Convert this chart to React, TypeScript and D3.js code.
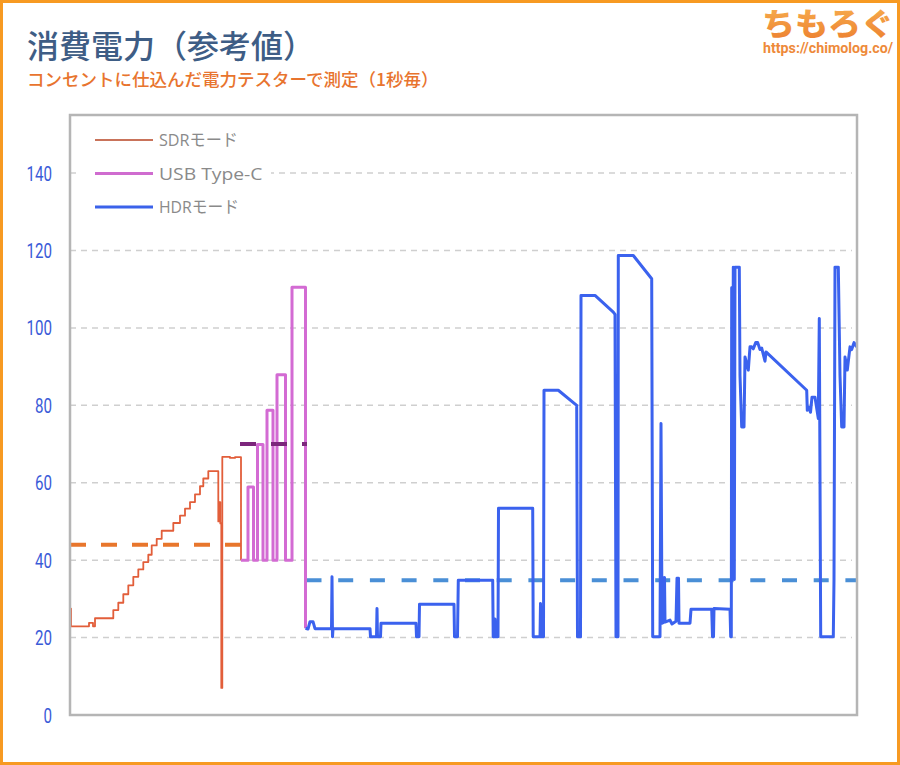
import React from 'react';
import * as d3 from 'd3';

type Pt = [number, number];

const W = 900;
const H = 765;

const titleText = '消費電力（参考値）';
const subtitleText = 'コンセントに仕込んだ電力テスターで測定（1秒毎）';
const logoText = 'ちもろぐ';
const logoUrl = 'https://chimolog.co/';

const yTicks = [0, 20, 40, 60, 80, 100, 120, 140];
const legendLabels = ['SDRモード', 'USB Type-C', 'HDRモード'];

// time (s) , watts  — SDR mode (step data)
const sdrSeries: Pt[] = [
  [0, 27.5], [1, 22.9], [19, 23.8], [23, 22.9], [25, 25],
  [43.3, 27.1], [48.3, 29.0], [53.3, 31.2], [58.3, 33.5], [63.3, 35.7],
  [68.3, 37.6], [73.3, 39.5], [78.3, 41.4], [81.7, 43.8], [86.7, 45.5],
  [91.7, 47.6], [103.3, 49.6], [110, 51.5], [115, 53.3], [120, 55],
  [125, 57], [130, 59.1], [133.3, 61.1], [138.3, 63],
  [148.3, 50], [149.3, 55], [150.3, 49.5], [151.3, 7], [152.3, 66.7], [160, 66.4], [165, 66.6], [171, 40],
];

// USB Type-C (step data)
const usbSeries: Pt[] = [
  [171, 40], [178, 58.9], [183.5, 40], [187.5, 69.9], [193, 40],
  [197, 78.7], [203, 40], [207, 87.9], [215.5, 40], [222, 110.5],
  [235.5, 22.4],
];

// HDR mode (linear data)
const hdrSeries: Pt[] = [
  [235.5, 22.4], [238, 22.2], [240, 24.1], [243, 24.1], [245, 22.3],
  [261.5, 22.3], [262, 35.7], [262.5, 20.2], [263, 22.3],
  [300, 22.3], [300.5, 20.2], [306.5, 20.2], [307, 27.5], [307.5, 20.2],
  [310.5, 20.2], [311, 23.7], [346, 23.7], [346.5, 20.2], [349, 20.2],
  [349.5, 28.6], [384, 28.6], [384.5, 20.2], [387.5, 20.2], [388.3, 34.8],
  [422.7, 34.8], [423.2, 20.2], [424.5, 20.2], [425, 24.8], [425.5, 20.2],
  [428, 20.2], [428.5, 53.4], [462.7, 53.4], [463.2, 20.2], [470, 20.2],
  [470.5, 28.8], [471, 20.2], [473.5, 20.2], [474, 83.9], [488.3, 83.9],
  [506.7, 80], [507.5, 20.2], [510.5, 20.2], [511, 108.4], [525, 108.4],
  [543.3, 104.1], [545, 103.5], [546, 20.2], [548, 20.2], [548.3, 118.7],
  [563.3, 118.7], [581.7, 112.7], [582.7, 20.2], [590, 20.2], [591, 75.3],
  [592, 23.7], [594, 24], [594.5, 35.5], [595, 24], [600, 24.5],
  [602, 23.5], [606, 24.2], [607, 35.3], [608.5, 35.3], [609, 23.7],
  [620, 23.7], [621, 27.3], [641.7, 27.3], [642.5, 20.2], [643.5, 20.2],
  [644, 27.5], [660, 27.3], [660.7, 20.2], [661.3, 20.2], [661.7, 110.4],
  [662.3, 35], [663.3, 115.7], [664.3, 35], [665, 115.7], [669.3, 115.7],
  [670, 87.7], [671.7, 74.4], [674, 74.4], [675, 92.5], [678.3, 89.1],
  [680, 95.1], [681.7, 95.1], [683.3, 94.6], [685.7, 96.2], [687.7, 96.2],
  [690, 94.4], [691.7, 94.8], [695, 91.4], [696, 93.8], [736.7, 83.9],
  [737.3, 78.7], [739, 79.5], [740.5, 78.2], [742, 82.1], [745, 82.1],
  [748.3, 76.6], [749.3, 102.4], [750.7, 20.2], [763.3, 20.2], [764, 35],
  [765, 115.7], [768.3, 115.7], [770, 87.7], [771.7, 74.4], [774, 74.4],
  [775, 92.5], [777.3, 89.1], [780, 95.1], [781.7, 94.4], [784, 96.2],
  [786.7, 95.1],
];

// averages: [value, startTime, endTime]
const sdrAverage = [44, 0, 172.7];
const usbAverage = [70, 170, 237];
const hdrAverage = [34.8, 236.5, 787];

const timeDomain = [0, 787];
const wattDomain = [0, 155];

export default function App() {
  const x = d3.scaleLinear().domain(timeDomain).range([70, 857]);
  const y = d3.scaleLinear().domain(wattDomain).range([715, 115]);

  const stepLine = d3.line<Pt>().x(d => x(d[0])).y(d => y(d[1])).curve(d3.curveStepAfter);
  const linLine = d3.line<Pt>().x(d => x(d[0])).y(d => y(d[1]));

  const avgLine = (a: number[]) =>
    linLine([[a[1], a[0]], [a[2], a[0]]] as Pt[]) || '';

  const legendColors = ['#c9735a', '#cf6ccf', '#3b62ea'];
  const legendYs = [140, 173.5, 207];
  const legendWidths = [79, 103.5, 80];

  const cjk = "'Noto Sans CJK JP', 'Noto Sans', sans-serif";

  return (
    <svg
      width={W}
      height={H}
      viewBox={`0 0 ${W} ${H}`}
      style={{ position: 'absolute', left: 0, top: 0, display: 'block', background: '#fff' }}
    >
      <defs>
        <linearGradient id="logoGrad" x1="0" y1="0" x2="0" y2="1">
          <stop offset="0%" stopColor="#f8b452" />
          <stop offset="100%" stopColor="#ec7d2e" />
        </linearGradient>
        <clipPath id="plotClip">
          <rect x={70} y={115} width={787} height={600} />
        </clipPath>
      </defs>

      <rect x={0} y={0} width={W} height={H} fill="#fff" />
      <rect x={1.5} y={1.5} width={W - 3} height={H - 3} fill="none" stroke="#f79a22" strokeWidth={3} />

      {/* Title */}
      <text x={27} y={58} fontFamily={cjk} fontSize={32} fontWeight={500} fill="#3e5d85">
        {titleText}
      </text>
      <text x={27} y={86} fontFamily={cjk} fontSize={17.5} fontWeight={500} fill="#e8742e">
        {subtitleText}
      </text>

      {/* Logo */}
      <text x={762} y={35} fontFamily={cjk} fontSize={31} fontWeight={900} fill="url(#logoGrad)"
        textLength={132} lengthAdjust="spacingAndGlyphs">
        {logoText}
      </text>
      <text x={763} y={53} fontFamily="Roboto, sans-serif" fontSize={15} fontWeight={700} fill="#ee8a3a"
        textLength={130} lengthAdjust="spacingAndGlyphs">
        {logoUrl}
      </text>

      {/* Grid */}
      {yTicks.filter(t => t > 0).map(t => (
        <line key={`g${t}`} x1={70} x2={852} y1={y(t)} y2={y(t)} stroke="#cfcfcf" strokeWidth={1.5}
          strokeDasharray="6 5" />
      ))}

      {/* Y labels */}
      {yTicks.map(t => (
        <text key={`t${t}`} transform={`translate(52, ${y(t) + 7.5}) scale(0.72, 1)`} textAnchor="end"
          fontFamily="Roboto, sans-serif" fontSize={21} fill="#3a5bd8">
          {t}
        </text>
      ))}

      <g clipPath="url(#plotClip)">
        {/* Averages */}
        <path d={avgLine(sdrAverage)} stroke="#e8762c" strokeWidth={4} strokeDasharray="16 15" fill="none" />
        <path d={avgLine(hdrAverage)} stroke="#4a8fd6" strokeWidth={4} strokeDasharray="15 16.7" fill="none" />

        {/* Series */}
        <path d={stepLine(sdrSeries) || ''} stroke="#e25e3a" strokeWidth={1.8} fill="none" strokeLinejoin="round" />
        <path d={stepLine(usbSeries) || ''} stroke="#d36bd3" strokeWidth={3} fill="none" strokeLinejoin="round" />
        <path d={avgLine(usbAverage)} stroke="#7c267c" strokeWidth={4} strokeDasharray="16 15" fill="none" />
        <path d={linLine(hdrSeries) || ''} stroke="#3b62ee" strokeWidth={3} fill="none" strokeLinejoin="round" />
      </g>

      {/* Legend */}
      <rect x={79} y={122} width={192} height={100} fill="#fff" />
      {legendLabels.map((l, i) => (
        <g key={l}>
          <line x1={95} x2={153} y1={legendYs[i]} y2={legendYs[i]} stroke={legendColors[i]}
            strokeWidth={i === 0 ? 2 : 3} />
          <text x={159} y={legendYs[i] + 6} fontFamily={`'Open Sans', ${cjk}`} fontSize={17} fill="#8a8a8a"
            textLength={legendWidths[i]} lengthAdjust="spacingAndGlyphs">
            {l}
          </text>
        </g>
      ))}

      {/* Plot border */}
      <rect x={70} y={115} width={787} height={600} fill="none" stroke="#b5b5b5" strokeWidth={2.5} />
    </svg>
  );
}
